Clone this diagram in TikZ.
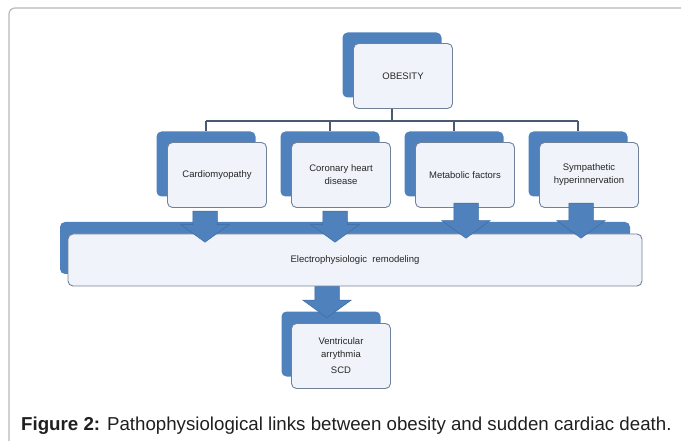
\documentclass[tikz,border=0pt]{standalone}
\usepackage{fontspec}
\setmainfont{Liberation Sans}
\usetikzlibrary{shapes.arrows, positioning}
\definecolor{smartblue}{RGB}{79,129,189}
\definecolor{arrowedge}{RGB}{62,108,165}
\definecolor{boxfill}{RGB}{240,244,250}
\definecolor{boxedge}{RGB}{112,128,152}
\definecolor{linkgray}{RGB}{75,90,115}
\definecolor{framegray}{RGB}{185,185,185}

\begin{document}
\begin{tikzpicture}[
    x=1pt, y=-1pt,
    backbox/.style={rectangle, rounded corners=5pt, fill=smartblue, minimum width=99pt, minimum height=65pt},
    frontbox/.style={rectangle, rounded corners=5pt, draw=boxedge, fill=boxfill, line width=0.9pt, minimum width=99pt, minimum height=65pt, align=center, text=black!85, font=\fontsize{9.5}{13}\selectfont},
    link/.style={draw=linkgray, line width=1.3pt},
    downarrow/.style={single arrow, fill=smartblue, draw=arrowedge, line width=0.5pt, rotate=-90, minimum height=31pt, inner xsep=0pt, inner ysep=12pt, single arrow head extend=12pt, single arrow tip angle=108, anchor=tail}
]
\useasboundingbox (0,0) rectangle (681,441);
\draw[framegray, line width=1.2pt, rounded corners=6pt] (9,441) -- (9,8) -- (681,8);

% back panels
\node[backbox] (obesity) at (392,65) {};
\node[backbox] (cardio) at (206,164) {};
\node[backbox] (coronary) at (330,164) {};
\node[backbox] (metabolic) at (454,164) {};
\node[backbox] (sympathetic) at (578,164) {};
\node[backbox, minimum width=570pt, minimum height=52pt] (remodel) at (345,248) {};
\node[backbox] (arrhythmia) at (331,344) {};

% tree lines
\coordinate (bus) at (0,121);
\draw[link] (obesity.south) -- (obesity.south |- bus);
\draw[link] (cardio.north |- bus) -- (sympathetic.north |- bus);
\foreach \n in {cardio, coronary, metabolic, sympathetic}
  \draw[link] (\n.north |- bus) -- (\n.north);

% front panels
\node[frontbox, xshift=11pt, yshift=-11pt] (obesity-t) at (obesity) {OBESITY};
\node[frontbox, xshift=11pt, yshift=-11pt] (cardio-t) at (cardio) {Cardiomyopathy};
\node[frontbox, xshift=11pt, yshift=-11pt] (coronary-t) at (coronary) {Coronary heart\\disease};
\node[frontbox, xshift=11pt, yshift=-11pt] (metabolic-t) at (metabolic) {Metabolic factors};
\node[frontbox, xshift=11pt, yshift=-11pt] (sympathetic-t) at (sympathetic) {Sympathetic\\hyperinnervation};
\node[frontbox, minimum width=574pt, minimum height=52pt, xshift=10pt, yshift=-12pt] (remodel-t) at (remodel) {Electrophysiologic\ \ remodeling};
\node[frontbox, xshift=10pt, yshift=-12pt] (arrhythmia-t) at (arrhythmia) {Ventricular\\arrythmia\\[3pt]SCD};

% block arrows
\node[downarrow] (a1) at ([xshift=-12pt, yshift=-3pt]cardio-t.south) {};
\node[downarrow] (a2) at ([xshift=-6pt, yshift=-3pt]coronary-t.south) {};
\node[downarrow, minimum height=35pt] (a3) at ([xshift=1pt, yshift=5pt]metabolic-t.south) {};
\node[downarrow, minimum height=35pt] (a4) at ([xshift=-8pt, yshift=5pt]sympathetic-t.south) {};
\node[downarrow] (a5) at ([xshift=-28pt]remodel-t.south) {};

% caption
\node[anchor=base west, inner sep=0pt, text=black!88, font=\fontsize{18.7}{22}\selectfont] (caption) at (21,430)
  {\textbf{Figure 2:} Pathophysiological links between obesity and sudden cardiac death.};
\end{tikzpicture}
\end{document}
